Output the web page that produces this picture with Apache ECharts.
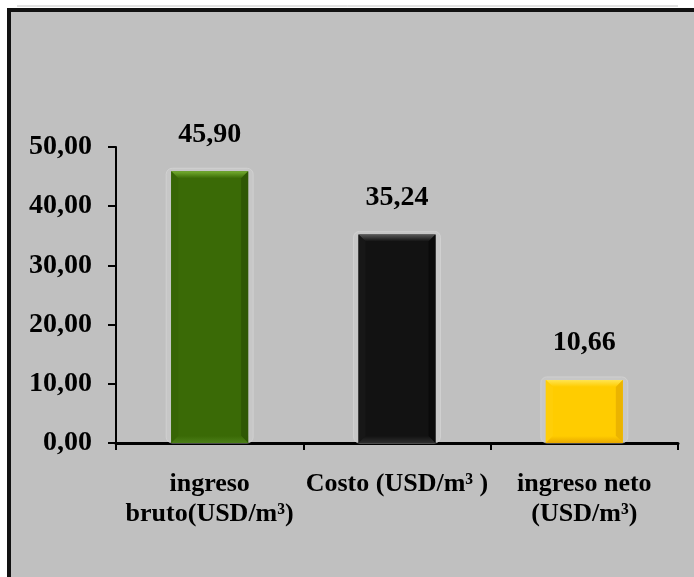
<!DOCTYPE html>
<html>
<head>
<meta charset="utf-8">
<script src="https://cdn.jsdelivr.net/npm/echarts@6/dist/echarts.min.js"></script>
<style>
  html, body { margin: 0; padding: 0; background: #ffffff; }
  #chart { width: 694px; height: 577px; }
</style>
</head>
<body>
<div id="chart"></div>
<script>
// Income / cost / net income per cubic metre
const categories = ['ingreso\nbruto(USD/m³)', 'Costo (USD/m³ )', 'ingreso neto\n(USD/m³)'];
const values = [45.90, 35.24, 10.66];
const yTicks = [0, 10, 20, 30, 40, 50];

// Bevelled bar palettes: face, top, left, right, bottom
const palettes = [
  { face: '#3a6a06', top: '#74ad30', left: '#376505', right: '#2f5804', bottom: '#4c7f18' },
  { face: '#121212', top: '#5a5a5a', left: '#171717', right: '#0a0a0a', bottom: '#2e2e2e' },
  { face: '#ffcc00', top: '#ffe552', left: '#ffce08', right: '#ebb400', bottom: '#e8a900' }
];

const BAR_W = 77;
const SERIF = '"Liberation Serif", "Times New Roman", serif';
const fmt = v => Number(v).toFixed(2).replace('.', ',');

const seriesData = values.map((v, i) => [i, v]);

function barBox(api) {
  const cat = api.value(0);
  const v = api.value(1);
  const top = api.coord([cat, v]);
  const base = api.coord([cat, 0]);
  return { x0: top[0] - BAR_W / 2, x1: top[0] + BAR_W / 2, y0: top[1], y1: base[1] };
}

function renderGlow(params, api) {
  const b = barBox(api);
  return {
    type: 'rect',
    shape: { x: b.x0 - 5, y: b.y0 - 3, width: BAR_W + 10, height: b.y1 - b.y0 + 3, r: 6 },
    style: { fill: 'rgba(204,204,204,0.55)', stroke: 'rgba(214,214,214,0.7)', lineWidth: 1 }
  };
}

function renderBevel(params, api) {
  const b = barBox(api);
  const p = palettes[params.dataIndex];
  const e = Math.min(7, (b.y1 - b.y0) / 2);
  const { x0, x1, y0, y1 } = b;
  return {
    type: 'group',
    children: [
      { type: 'polygon', shape: { points: [[x0, y0], [x1, y0], [x1 - e, y0 + e], [x0 + e, y0 + e]] },
        style: { fill: new echarts.graphic.LinearGradient(0, 0, 0, 1, [
          { offset: 0, color: p.top }, { offset: 1, color: p.face }]) } },
      { type: 'polygon', shape: { points: [[x0, y0], [x0 + e, y0 + e], [x0 + e, y1 - e], [x0, y1]] },
        style: { fill: p.left } },
      { type: 'polygon', shape: { points: [[x1, y0], [x1, y1], [x1 - e, y1 - e], [x1 - e, y0 + e]] },
        style: { fill: p.right } },
      { type: 'polygon', shape: { points: [[x0, y1], [x0 + e, y1 - e], [x1 - e, y1 - e], [x1, y1]] },
        style: { fill: new echarts.graphic.LinearGradient(0, 0, 0, 1, [
          { offset: 0, color: p.face }, { offset: 1, color: p.bottom }]) } }
    ]
  };
}

const chart = echarts.init(document.getElementById('chart'), null, { renderer: 'canvas' });

chart.setOption({
  backgroundColor: '#c0c0c0',
  animation: false,
  graphic: [
    { type: 'rect', shape: { x: 0, y: 0, width: 694, height: 8 }, style: { fill: '#ffffff' }, z: 100 },
    { type: 'rect', shape: { x: 0, y: 0, width: 7, height: 577 }, style: { fill: '#ffffff' }, z: 100 },
    { type: 'line', shape: { x1: 17, y1: 6, x2: 678, y2: 6 }, style: { stroke: '#c4c4c4', lineWidth: 1 }, z: 101 },
    { type: 'rect', shape: { x: 7, y: 8, width: 687, height: 4 }, style: { fill: '#111111' }, z: 101 },
    { type: 'rect', shape: { x: 7, y: 8, width: 4, height: 569 }, style: { fill: '#111111' }, z: 101 }
  ],
  grid: { left: 116, right: 16, top: 147, bottom: 134 },
  xAxis: {
    type: 'category',
    data: categories,
    axisLine: { show: true, lineStyle: { color: '#000', width: 3 } },
    axisTick: { show: true, alignWithLabel: false, length: 7, lineStyle: { color: '#000', width: 2 } },
    axisLabel: {
      interval: 0,
      margin: 26,
      color: '#000',
      fontFamily: SERIF,
      fontWeight: 'bold',
      fontSize: 26,
      lineHeight: 30,
      align: 'center'
    },
    splitLine: { show: false }
  },
  yAxis: {
    type: 'value',
    min: yTicks[0],
    max: yTicks[yTicks.length - 1],
    interval: yTicks[1] - yTicks[0],
    axisLine: { show: true, lineStyle: { color: '#000', width: 2 } },
    axisTick: { show: true, length: 8, lineStyle: { color: '#000', width: 2 } },
    axisLabel: {
      margin: 24,
      color: '#000',
      fontFamily: SERIF,
      fontWeight: 'bold',
      fontSize: 28,
      formatter: fmt
    },
    splitLine: { show: false }
  },
  series: [
    {
      type: 'custom',
      renderItem: renderGlow,
      data: seriesData,
      encode: { x: 0, y: 1 },
      z: 1,
      silent: true
    },
    {
      type: 'bar',
      data: values.map((v, i) => ({ value: v, itemStyle: { color: palettes[i].face } })),
      barWidth: BAR_W,
      z: 2,
      label: {
        show: true,
        position: 'top',
        distance: 23,
        color: '#000',
        fontFamily: SERIF,
        fontWeight: 'bold',
        fontSize: 28,
        formatter: p => fmt(p.value)
      }
    },
    {
      type: 'custom',
      renderItem: renderBevel,
      data: seriesData,
      encode: { x: 0, y: 1 },
      z: 3,
      silent: true
    }
  ]
});
</script>
</body>
</html>
